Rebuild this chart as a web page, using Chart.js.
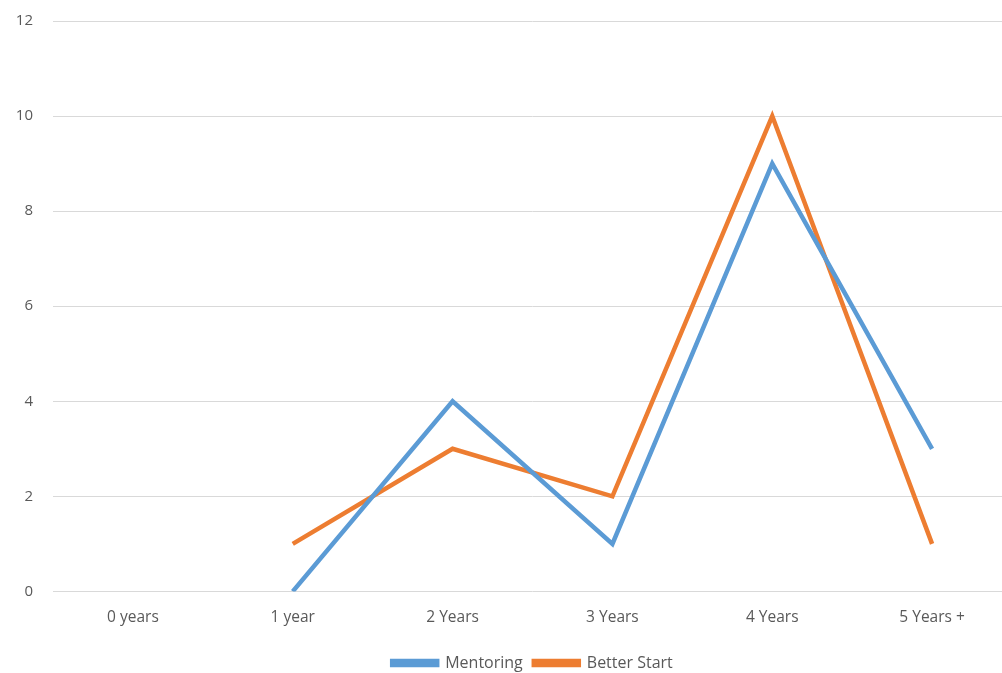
<!DOCTYPE html>
<html>
<head>
<meta charset="utf-8">
<style>
  html, body { margin: 0; padding: 0; background: #fff; overflow: hidden; }
  #wrap { width: 1012px; height: 673px; }
</style>
<script src="https://cdn.jsdelivr.net/npm/chart.js@4/dist/chart.umd.min.js"></script>
</head>
<body>
<div id="wrap"><canvas id="chart" width="1012" height="673"></canvas></div>
<script>
const categories = ["0 years", "1 year", "2 Years", "3 Years", "4 Years", "5 Years +"];
const mentoring = [null, 0, 4, 1, 9, 3];
const betterStart = [null, 1, 3, 2, 10, 1];
const yTicks = [0, 2, 4, 6, 8, 10, 12];

const family = "'Open Sans', 'Liberation Sans', sans-serif";

new Chart(document.getElementById("chart"), {
  type: "line",
  data: {
    labels: categories,
    datasets: [
      {
        label: "Mentoring",
        data: mentoring,
        borderColor: "#5B9BD5",
        backgroundColor: "#5B9BD5",
        borderWidth: 4.5,
        pointRadius: 0,
        tension: 0,
      },
      {
        label: "Better Start",
        data: betterStart,
        borderColor: "#ED7D31",
        backgroundColor: "#ED7D31",
        borderWidth: 4.5,
        pointRadius: 0,
        tension: 0,
      },
    ],
  },
  options: {
    responsive: false,
    animation: false,
    layout: { padding: { top: 21, right: 0, bottom: -8, left: 0 } },
    plugins: {
      tooltip: { enabled: false },
      legend: {
        position: "bottom",
        fullSize: false,
        labels: {
          boxWidth: 45,
          boxHeight: 4,
          padding: 11,
          color: "#595959",
          font: { family: family, size: 16 },
        },
      },
    },
    scales: {
      x: {
        offset: true,
        grid: { display: false, drawTicks: false },
        border: { display: false },
        ticks: { color: "#595959", font: { family: family, size: 15.5 }, padding: 17 },
      },
      y: {
        min: 0,
        max: 12,
        afterFit: (s) => { s.width = 53; s.paddingTop = 0; s.paddingBottom = 0; },
        afterBuildTicks: (s) => { s.ticks = yTicks.map((v) => ({ value: v })); },
        grid: { color: "#d9d9d9", lineWidth: 1, drawTicks: false },
        border: { display: false },
        ticks: { color: "#595959", font: { family: family, size: 15 }, padding: 20 },
      },
    },
  },
});
</script>
</body>
</html>
